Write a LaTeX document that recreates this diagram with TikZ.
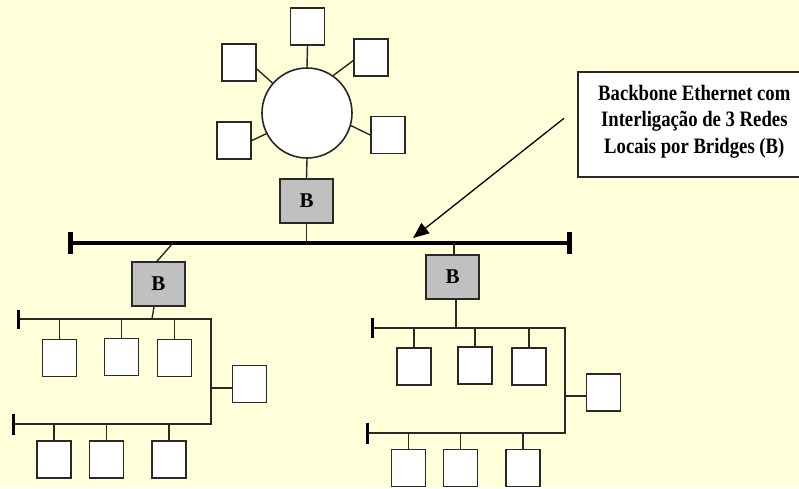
\documentclass[tikz,border=0pt]{standalone}
\usepackage{fontspec}
\setmainfont{Liberation Serif}
\newfontfamily\lblfont[FakeStretch=0.85]{Liberation Serif}
\usetikzlibrary{arrows.meta,calc}
\definecolor{bgyellow}{RGB}{255,255,218}
\definecolor{bridgegray}{RGB}{192,192,192}
\definecolor{linegray}{RGB}{40,40,40}
\begin{document}
\begin{tikzpicture}[x=1pt,y=-1pt,
  host/.style={draw=linegray, line width=1.6pt, fill=white, minimum width=34pt, minimum height=37pt, inner sep=0pt},
  bridge/.style={draw=linegray, line width=1.6pt, fill=bridgegray, minimum width=53pt, minimum height=44pt, inner sep=0pt, font=\bfseries\fontsize{21}{21}\selectfont},
  wire/.style={draw=linegray, line width=1.4pt},
  backbone/.style={line width=4.5pt, black},
  endcap/.style={line width=5pt, black},
  tapcap/.style={line width=3pt, black}]
\fill[bgyellow] (0,0) rectangle (799,488);
\useasboundingbox (0,0) rectangle (799,488);

% ring and its stations
\node[draw=linegray, line width=1.6pt, fill=white, circle, minimum size=90pt, inner sep=0pt] (ring) at (307,113) {};
\node[host] (s1) at (307.5,26.5) {};
\node[host] (s2) at (239,62.5) {};
\node[host] (s3) at (371,57.5) {};
\node[host] (s4) at (234,140.5) {};
\node[host] (s5) at (388,135) {};
\draw[wire] (s1.south) -- (ring.north);
\draw[wire] (s2.-20) -- (ring.139);
\draw[wire] (s3.190) -- (ring.55);
\draw[wire] (s4.east) -- (ring.207);
\draw[wire] (s5.west) -- (ring.-16);

% top bridge
\node[bridge] (bt) at (306.5,201) {B};
\draw[wire] (ring.south) -- (bt.north);

% backbone
\coordinate (bbL) at (70,243);
\coordinate (bbR) at (569,243);
\coordinate (btTap) at (306.5,243);
\draw[wire] (bt.south) -- (btTap);
\draw[backbone] (bbL) -- (bbR);
\draw[endcap] ($(bbL)+(0,-11)$) -- ($(bbL)+(0,11)$);
\draw[endcap] ($(bbR)+(0,-11)$) -- ($(bbR)+(0,11)$);

% left bridge and LANs
\node[bridge] (bl) at (158.5,284) {B};
\coordinate (blTap) at (173,243);
\coordinate (luB) at (152,319);
\draw[wire] (blTap) -- ([xshift=-1.5pt]bl.north);
\draw[wire] ([xshift=-4.5pt]bl.south) -- (luB);
\coordinate (luL) at (18,319);
\coordinate (luR) at (211,319);
\coordinate (llR) at (211,424);
\coordinate (llL) at (13,424);
\draw[wire] (luL) -- (luR) -- (llR) -- (llL);
\draw[tapcap] ($(luL)+(0,-9.5)$) -- ($(luL)+(0,9.5)$);
\draw[tapcap] ($(llL)+(0,-10.5)$) -- ($(llL)+(0,10.5)$);
\node[host] (l1) at (59.5,358) {};
\node[host] (l2) at (121.5,357) {};
\node[host] (l3) at (174.5,358) {};
\node[host] (l4) at (249.5,384) {};
\node[host] (l5) at (54,459.5) {};
\node[host] (l6) at (106.5,459.5) {};
\node[host] (l7) at (169,459.5) {};
\foreach \n in {l1,l2,l3} \draw[wire] (\n.north) -- (\n.north |- luL);
\foreach \n in {l5,l6,l7} \draw[wire] (\n.north) -- (\n.north |- llL);
\draw[wire] ([yshift=-4pt]l4.west) -- ([yshift=-4pt]l4.west -| luR);

% right bridge and LANs
\node[bridge] (br) at (452.5,277) {B};
\coordinate (brTap) at (454,243);
\coordinate (ruB) at (456,328);
\draw[wire] (brTap) -- (brTap |- br.north);
\draw[wire] (ruB |- br.south) -- (ruB);
\coordinate (ruL) at (372,328);
\coordinate (ruR) at (565,328);
\coordinate (rlR) at (565,433);
\coordinate (rlL) at (367,433);
\draw[wire] (ruL) -- (ruR) -- (rlR) -- (rlL);
\draw[tapcap] ($(ruL)+(0,-10)$) -- ($(ruL)+(0,10)$);
\draw[tapcap] ($(rlL)+(0,-10.5)$) -- ($(rlL)+(0,10.5)$);
\node[host] (r1) at (414,366.5) {};
\node[host] (r2) at (475,365.5) {};
\node[host] (r3) at (529,366.5) {};
\node[host] (r4) at (603.5,392.5) {};
\node[host] (r5) at (408.5,468) {};
\node[host] (r6) at (460.5,468) {};
\node[host] (r7) at (523,468) {};
\foreach \n in {r1,r2,r3} \draw[wire] (\n.north) -- (\n.north |- ruL);
\foreach \n in {r5,r6,r7} \draw[wire] (\n.north) -- (\n.north |- rlL);
\draw[wire] ([yshift=-3.5pt]r4.west) -- ([yshift=-3.5pt]r4.west -| ruR);

% label box and arrow
\node[draw=linegray, line width=1.6pt, fill=white, minimum width=232pt, minimum height=105pt,
      anchor=north west, inner sep=0pt] (lbl) at (577,71) {};
\node[align=center, inner sep=0pt,
      font=\lblfont\bfseries\fontsize{22}{26.5}\selectfont] (lbltext) at ($(lbl.center)+(0.5,-3)$)
      {Backbone Ethernet com\\Interligação de 3 Redes\\Locais por Bridges (B)};
\coordinate (arrS) at ($(lbl.west)+(-13,-6)$);
\coordinate (tip) at (413,238);
\draw[line width=1.3pt, black, -{Triangle[length=16pt,width=13pt]}] (arrS) -- (tip);
\end{tikzpicture}
\end{document}
